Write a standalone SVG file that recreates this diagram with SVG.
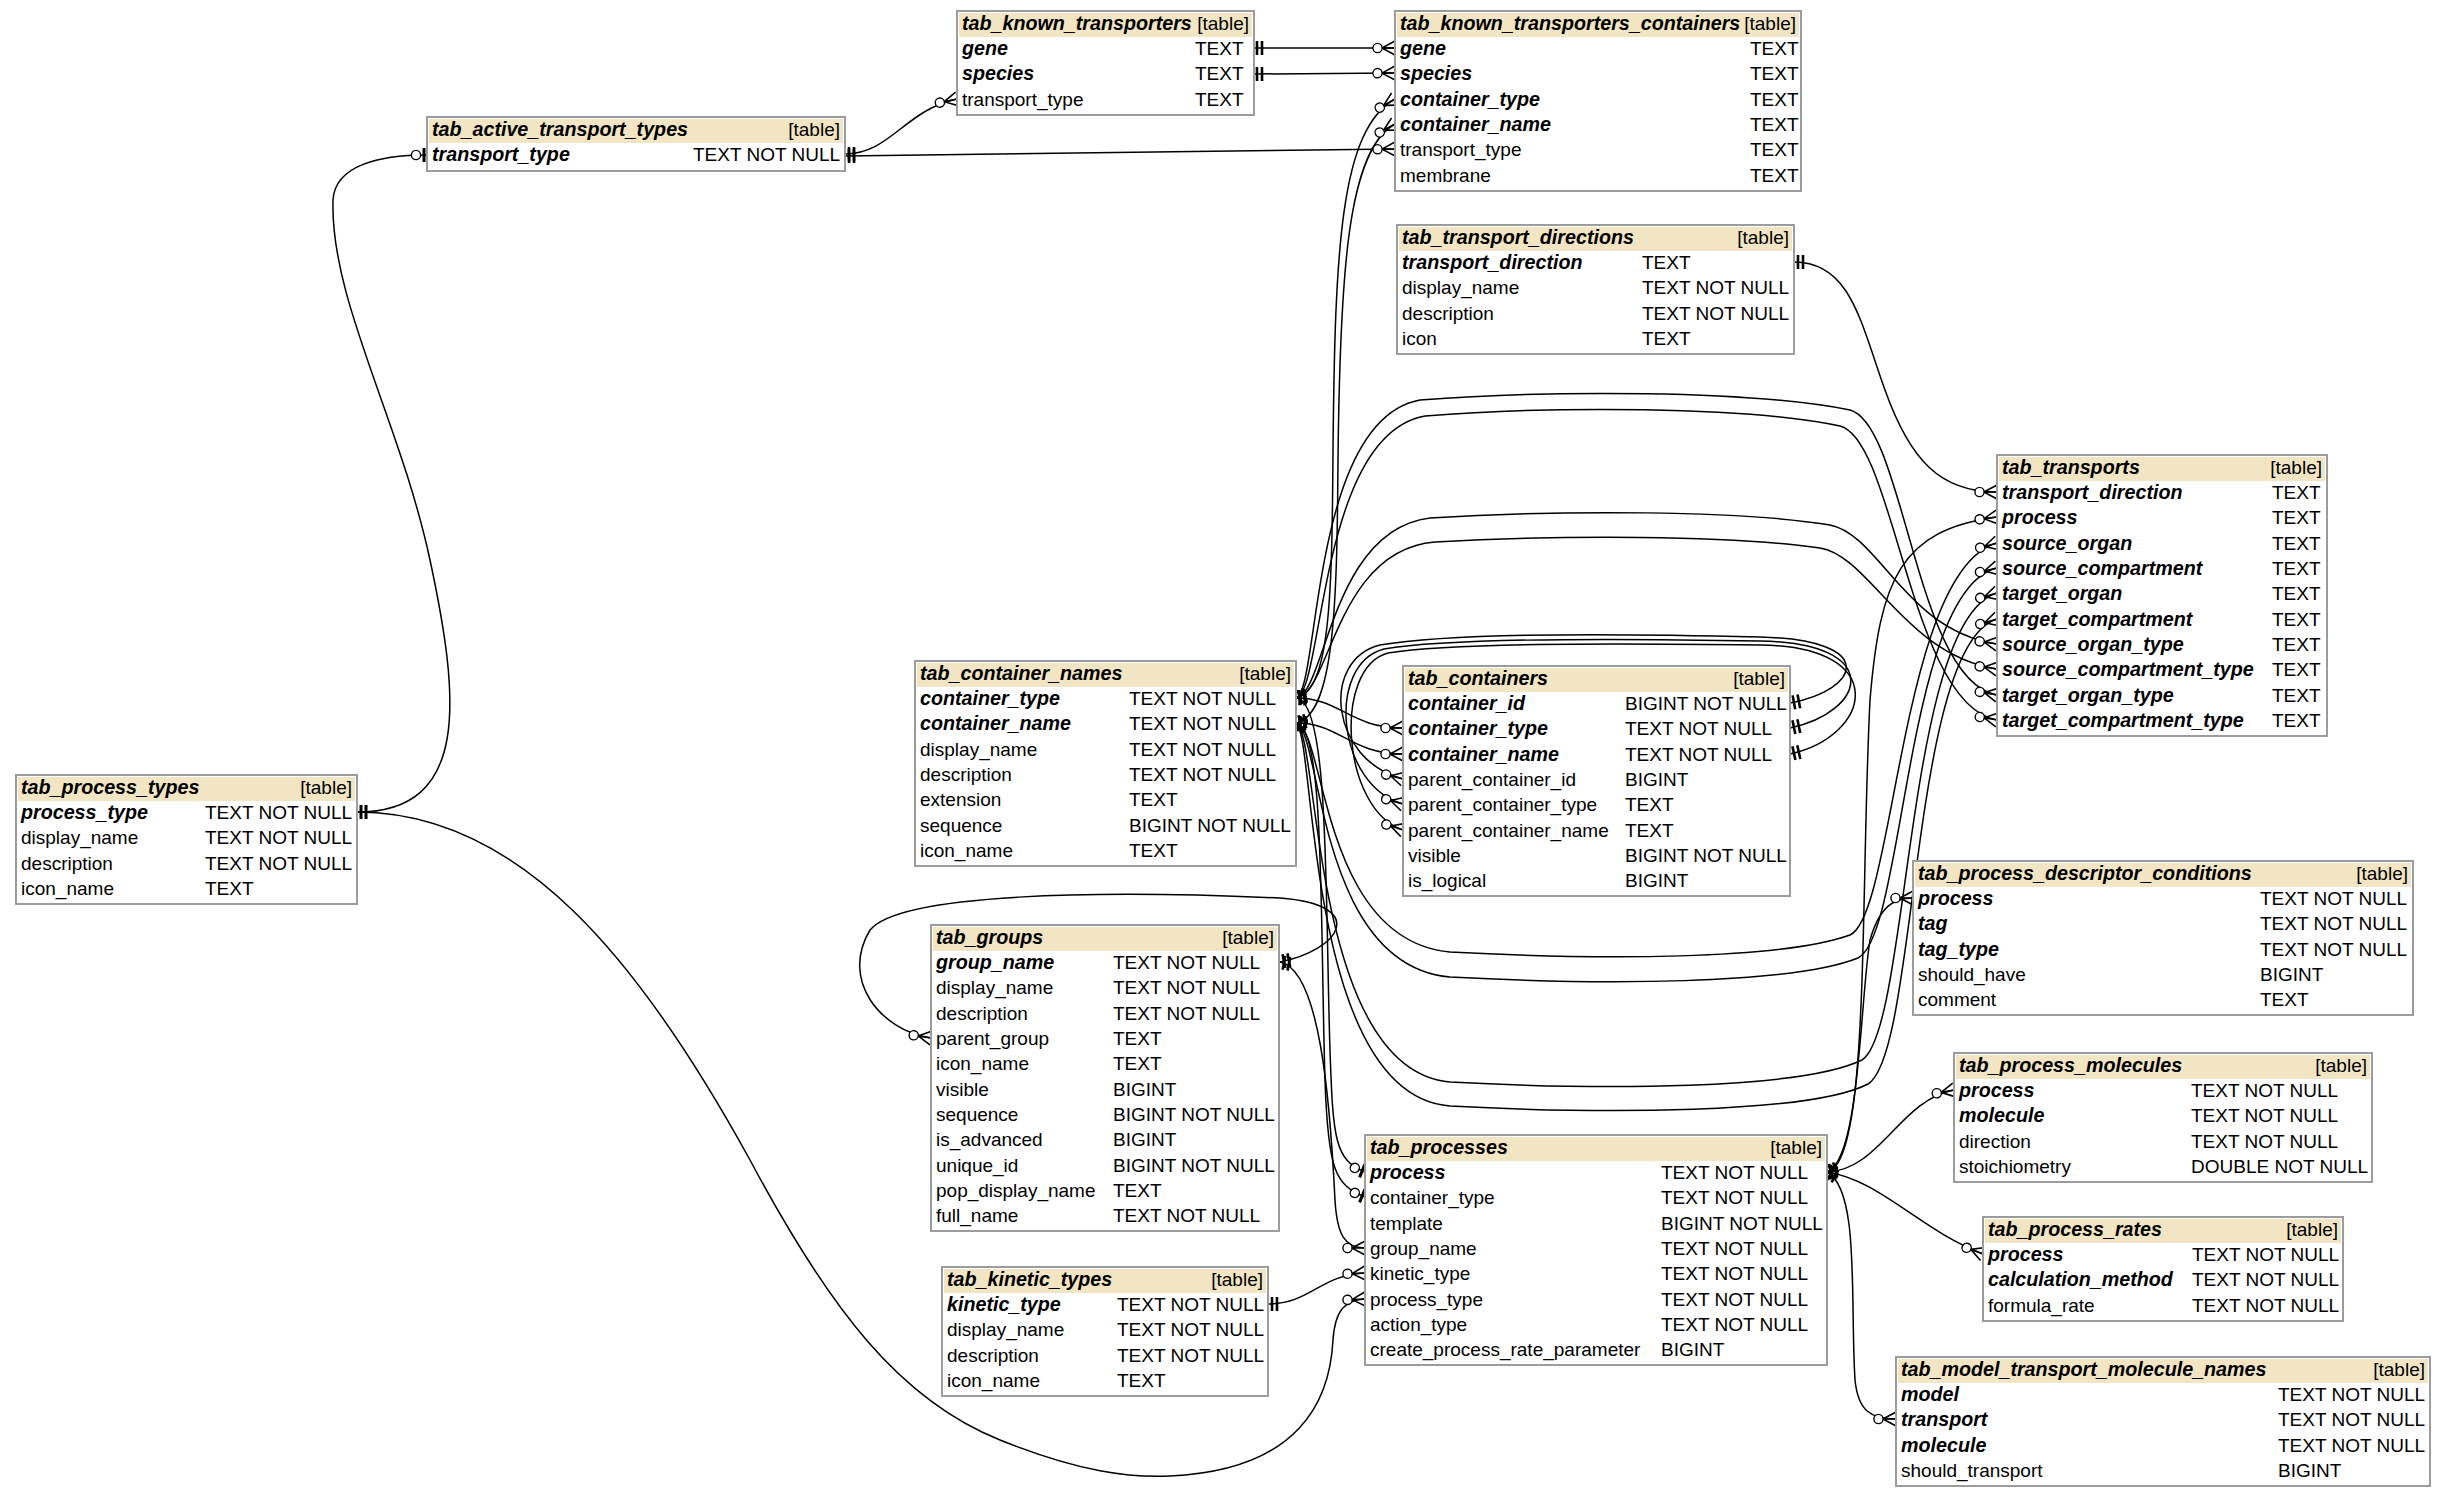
<svg xmlns="http://www.w3.org/2000/svg" width="2444" height="1496" viewBox="0 0 2444 1496">
<style>
.box{fill:#fff;stroke:#9c9c9c;stroke-width:2}
.hd{fill:#f2e5c3}
text{font-family:"Liberation Sans",Arial,sans-serif;font-size:19px;fill:#000}
.k{font-weight:bold;font-style:italic;font-size:19.7px}
.r{text-anchor:end}
.ln{fill:none;stroke:#000;stroke-width:1.5}
.p{marker-start:url(#one)}
.c{marker-end:url(#many)}
.z{marker-end:url(#zeroOne)}
</style>
<defs>
<marker id="many" markerUnits="userSpaceOnUse" orient="auto" overflow="visible" markerWidth="1" markerHeight="1" refX="0" refY="0">
<path d="M-13,0L0,-7M-13,0L0,0M-13,0L0,7" fill="none" stroke="#000" stroke-width="1.6"/>
<circle cx="-17.5" cy="0" r="4.6" fill="#fff" stroke="#000" stroke-width="1.4"/>
</marker>
<marker id="one" markerUnits="userSpaceOnUse" orient="auto-start-reverse" overflow="visible" markerWidth="1" markerHeight="1" refX="0" refY="0">
<path d="M-4,-7V7M-9,-7V7" fill="none" stroke="#000" stroke-width="2.6"/>
</marker>
<marker id="zeroOne" markerUnits="userSpaceOnUse" orient="auto" overflow="visible" markerWidth="1" markerHeight="1" refX="0" refY="0">
<path d="M-3,-7V7" fill="none" stroke="#000" stroke-width="3"/>
<circle cx="-11" cy="0" r="4.6" fill="#fff" stroke="#000" stroke-width="1.4"/>
</marker>
</defs>
<rect width="2444" height="1496" fill="#fff"/>

<g id="connectors">
<!-- known transporters -> known transporter containers -->
<path class="ln p c" d="M1253,48 L1395,48"/>
<path class="ln p c" d="M1253,74 L1395,73"/>
<!-- active transport types -> known transporters / containers -->
<path class="ln p c" d="M845,154 C890,154 905,110 957,99"/>
<path class="ln p c" d="M845,156 L1395,149"/>
<!-- process types -> active transport types (one to one) -->
<path class="ln p z" d="M357,812 C470,812 460,700 430,560 C400,420 330,300 333,200 C335,165 380,155 427,155"/>
<!-- process types -> processes.process_type -->
<path class="ln p c" d="M357,812 C520,812 640,960 750,1160 C830,1310 900,1400 1000,1440 C1080,1472 1130,1478 1170,1476 C1300,1470 1330,1400 1333,1340 C1335,1310 1345,1300 1365,1299"/>
<!-- transport directions -> transports -->
<path class="ln p c" d="M1794,262 C1850,262 1860,320 1885,390 C1910,460 1940,492 1997,492"/>
<!-- container names -> known transporter containers -->
<path class="ln p c" d="M1296,698 C1330,690 1332,600 1333,450 C1335,250 1340,130 1395,99"/>
<path class="ln p c" d="M1296,723 C1335,715 1337,600 1338,460 C1340,270 1348,150 1395,124"/>
<!-- container names -> containers -->
<path class="ln p c" d="M1296,698 C1340,698 1350,728 1403,728"/>
<path class="ln p c" d="M1296,723 C1340,723 1350,754 1403,754"/>
<!-- containers self reference (parent container) -->
<path class="ln p c" d="M1790,703 C1860,690 1880,640 1760,637 C1600,633 1450,633 1380,645 C1320,660 1330,760 1403,779"/>
<path class="ln p c" d="M1790,728 C1866,712 1886,643 1760,641 C1600,638 1450,638 1384,649 C1326,664 1336,785 1403,804"/>
<path class="ln p c" d="M1790,754 C1872,736 1892,646 1760,645 C1600,643 1450,643 1388,653 C1332,668 1342,810 1403,830"/>
<!-- container names -> transports (upper arcs) -->
<path class="ln p c" d="M1296,698 C1320,690 1310,420 1420,400 C1550,390 1750,390 1850,410 C1905,425 1915,680 1997,695"/>
<path class="ln p c" d="M1296,698 C1324,692 1318,435 1425,416 C1550,406 1745,406 1840,426 C1895,440 1910,705 1997,720"/>
<path class="ln p c" d="M1296,698 C1326,694 1330,530 1430,518 C1560,510 1740,510 1830,525 C1880,535 1905,630 1997,644"/>
<path class="ln p c" d="M1296,698 C1330,696 1335,550 1435,542 C1560,535 1730,535 1820,548 C1870,556 1905,655 1997,669"/>
<!-- container names -> transports (lower arcs) -->
<path class="ln p c" d="M1296,723 C1326,728 1320,940 1450,952 C1600,960 1780,960 1850,935 C1895,915 1900,570 1997,543"/>
<path class="ln p c" d="M1296,723 C1322,730 1316,965 1450,977 C1600,985 1790,985 1858,958 C1905,935 1905,590 1997,568"/>
<path class="ln p c" d="M1296,723 C1320,732 1310,1070 1450,1082 C1600,1090 1800,1090 1862,1060 C1910,1030 1905,620 1997,593"/>
<path class="ln p c" d="M1296,723 C1316,734 1305,1095 1450,1106 C1600,1114 1810,1114 1868,1084 C1918,1055 1910,645 1997,619"/>
<!-- container names -> processes -->
<path class="ln p z" d="M1296,698 C1330,700 1325,900 1330,1050 C1333,1140 1335,1160 1365,1172"/>
<path class="ln p z" d="M1296,723 C1325,725 1320,920 1325,1080 C1328,1170 1335,1185 1365,1197"/>
<!-- groups -> processes / groups self reference -->
<path class="ln p c" d="M1280,962 C1320,970 1330,1100 1335,1200 C1337,1235 1345,1248 1365,1248"/>
<path class="ln p c" d="M1280,962 C1340,950 1370,905 1280,898 C1100,890 900,893 870,930 C840,980 880,1030 931,1038"/>
<!-- kinetic types -> processes -->
<path class="ln p c" d="M1268,1304 C1310,1304 1320,1275 1365,1273"/>
<!-- processes -> children -->
<path class="ln p c" d="M1827,1172 C1870,1165 1860,900 1870,700 C1880,580 1900,530 1997,517"/>
<path class="ln p c" d="M1827,1172 C1860,1160 1860,1000 1870,940 C1880,905 1895,898 1913,898"/>
<path class="ln p c" d="M1827,1172 C1880,1170 1900,1100 1954,1090"/>
<path class="ln p c" d="M1827,1172 C1880,1180 1920,1230 1983,1254"/>
<path class="ln p c" d="M1827,1172 C1860,1190 1850,1300 1855,1380 C1858,1410 1870,1419 1896,1419"/>
</g>

<g id="tab_known_transporters" transform="translate(957,11)">
<rect class="box" width="297" height="104"/><rect class="hd" x="2" y="2" width="293" height="24"/>
<text class="k" x="5" y="19">tab_known_transporters</text><text class="r" x="292" y="19">[table]</text>
<text class="k" x="5" y="44">gene</text><text x="238" y="44">TEXT</text>
<text class="k" x="5" y="69.3">species</text><text x="238" y="69.3">TEXT</text>
<text x="5" y="94.7">transport_type</text><text x="238" y="94.7">TEXT</text>
</g>

<g id="tab_known_transporters_containers" transform="translate(1395,11)">
<rect class="box" width="406" height="180"/><rect class="hd" x="2" y="2" width="402" height="24"/>
<text class="k" x="5" y="19">tab_known_transporters_containers</text><text class="r" x="401" y="19">[table]</text>
<text class="k" x="5" y="44">gene</text><text x="355" y="44">TEXT</text>
<text class="k" x="5" y="69.3">species</text><text x="355" y="69.3">TEXT</text>
<text class="k" x="5" y="94.7">container_type</text><text x="355" y="94.7">TEXT</text>
<text class="k" x="5" y="120">container_name</text><text x="355" y="120">TEXT</text>
<text x="5" y="145.3">transport_type</text><text x="355" y="145.3">TEXT</text>
<text x="5" y="170.7">membrane</text><text x="355" y="170.7">TEXT</text>
</g>

<g id="tab_active_transport_types" transform="translate(427,117)">
<rect class="box" width="418" height="54"/><rect class="hd" x="2" y="2" width="414" height="24"/>
<text class="k" x="5" y="19">tab_active_transport_types</text><text class="r" x="413" y="19">[table]</text>
<text class="k" x="5" y="44">transport_type</text><text x="266" y="44">TEXT NOT NULL</text>
</g>

<g id="tab_transport_directions" transform="translate(1397,225)">
<rect class="box" width="397" height="129"/><rect class="hd" x="2" y="2" width="393" height="24"/>
<text class="k" x="5" y="19">tab_transport_directions</text><text class="r" x="392" y="19">[table]</text>
<text class="k" x="5" y="44">transport_direction</text><text x="245" y="44">TEXT</text>
<text x="5" y="69.3">display_name</text><text x="245" y="69.3">TEXT NOT NULL</text>
<text x="5" y="94.7">description</text><text x="245" y="94.7">TEXT NOT NULL</text>
<text x="5" y="120">icon</text><text x="245" y="120">TEXT</text>
</g>

<g id="tab_transports" transform="translate(1997,455)">
<rect class="box" width="330" height="281"/><rect class="hd" x="2" y="2" width="326" height="24"/>
<text class="k" x="5" y="19">tab_transports</text><text class="r" x="325" y="19">[table]</text>
<text class="k" x="5" y="44">transport_direction</text><text x="275" y="44">TEXT</text>
<text class="k" x="5" y="69.3">process</text><text x="275" y="69.3">TEXT</text>
<text class="k" x="5" y="94.7">source_organ</text><text x="275" y="94.7">TEXT</text>
<text class="k" x="5" y="120">source_compartment</text><text x="275" y="120">TEXT</text>
<text class="k" x="5" y="145.3">target_organ</text><text x="275" y="145.3">TEXT</text>
<text class="k" x="5" y="170.7">target_compartment</text><text x="275" y="170.7">TEXT</text>
<text class="k" x="5" y="196">source_organ_type</text><text x="275" y="196">TEXT</text>
<text class="k" x="5" y="221.3">source_compartment_type</text><text x="275" y="221.3">TEXT</text>
<text class="k" x="5" y="246.7">target_organ_type</text><text x="275" y="246.7">TEXT</text>
<text class="k" x="5" y="272">target_compartment_type</text><text x="275" y="272">TEXT</text>
</g>

<g id="tab_container_names" transform="translate(915,661)">
<rect class="box" width="381" height="205"/><rect class="hd" x="2" y="2" width="377" height="24"/>
<text class="k" x="5" y="19">tab_container_names</text><text class="r" x="376" y="19">[table]</text>
<text class="k" x="5" y="44">container_type</text><text x="214" y="44">TEXT NOT NULL</text>
<text class="k" x="5" y="69.3">container_name</text><text x="214" y="69.3">TEXT NOT NULL</text>
<text x="5" y="94.7">display_name</text><text x="214" y="94.7">TEXT NOT NULL</text>
<text x="5" y="120">description</text><text x="214" y="120">TEXT NOT NULL</text>
<text x="5" y="145.3">extension</text><text x="214" y="145.3">TEXT</text>
<text x="5" y="170.7">sequence</text><text x="214" y="170.7">BIGINT NOT NULL</text>
<text x="5" y="196">icon_name</text><text x="214" y="196">TEXT</text>
</g>

<g id="tab_containers" transform="translate(1403,666)">
<rect class="box" width="387" height="230"/><rect class="hd" x="2" y="2" width="383" height="24"/>
<text class="k" x="5" y="19">tab_containers</text><text class="r" x="382" y="19">[table]</text>
<text class="k" x="5" y="44">container_id</text><text x="222" y="44">BIGINT NOT NULL</text>
<text class="k" x="5" y="69.3">container_type</text><text x="222" y="69.3">TEXT NOT NULL</text>
<text class="k" x="5" y="94.7">container_name</text><text x="222" y="94.7">TEXT NOT NULL</text>
<text x="5" y="120">parent_container_id</text><text x="222" y="120">BIGINT</text>
<text x="5" y="145.3">parent_container_type</text><text x="222" y="145.3">TEXT</text>
<text x="5" y="170.7">parent_container_name</text><text x="222" y="170.7">TEXT</text>
<text x="5" y="196">visible</text><text x="222" y="196">BIGINT NOT NULL</text>
<text x="5" y="221.3">is_logical</text><text x="222" y="221.3">BIGINT</text>
</g>

<g id="tab_process_types" transform="translate(16,775)">
<rect class="box" width="341" height="129"/><rect class="hd" x="2" y="2" width="337" height="24"/>
<text class="k" x="5" y="19">tab_process_types</text><text class="r" x="336" y="19">[table]</text>
<text class="k" x="5" y="44">process_type</text><text x="189" y="44">TEXT NOT NULL</text>
<text x="5" y="69.3">display_name</text><text x="189" y="69.3">TEXT NOT NULL</text>
<text x="5" y="94.7">description</text><text x="189" y="94.7">TEXT NOT NULL</text>
<text x="5" y="120">icon_name</text><text x="189" y="120">TEXT</text>
</g>

<g id="tab_groups" transform="translate(931,925)">
<rect class="box" width="348" height="306"/><rect class="hd" x="2" y="2" width="344" height="24"/>
<text class="k" x="5" y="19">tab_groups</text><text class="r" x="343" y="19">[table]</text>
<text class="k" x="5" y="44">group_name</text><text x="182" y="44">TEXT NOT NULL</text>
<text x="5" y="69.3">display_name</text><text x="182" y="69.3">TEXT NOT NULL</text>
<text x="5" y="94.7">description</text><text x="182" y="94.7">TEXT NOT NULL</text>
<text x="5" y="120">parent_group</text><text x="182" y="120">TEXT</text>
<text x="5" y="145.3">icon_name</text><text x="182" y="145.3">TEXT</text>
<text x="5" y="170.7">visible</text><text x="182" y="170.7">BIGINT</text>
<text x="5" y="196">sequence</text><text x="182" y="196">BIGINT NOT NULL</text>
<text x="5" y="221.3">is_advanced</text><text x="182" y="221.3">BIGINT</text>
<text x="5" y="246.7">unique_id</text><text x="182" y="246.7">BIGINT NOT NULL</text>
<text x="5" y="272">pop_display_name</text><text x="182" y="272">TEXT</text>
<text x="5" y="297.3">full_name</text><text x="182" y="297.3">TEXT NOT NULL</text>
</g>

<g id="tab_kinetic_types" transform="translate(942,1267)">
<rect class="box" width="326" height="129"/><rect class="hd" x="2" y="2" width="322" height="24"/>
<text class="k" x="5" y="19">tab_kinetic_types</text><text class="r" x="321" y="19">[table]</text>
<text class="k" x="5" y="44">kinetic_type</text><text x="175" y="44">TEXT NOT NULL</text>
<text x="5" y="69.3">display_name</text><text x="175" y="69.3">TEXT NOT NULL</text>
<text x="5" y="94.7">description</text><text x="175" y="94.7">TEXT NOT NULL</text>
<text x="5" y="120">icon_name</text><text x="175" y="120">TEXT</text>
</g>

<g id="tab_processes" transform="translate(1365,1135)">
<rect class="box" width="462" height="230"/><rect class="hd" x="2" y="2" width="458" height="24"/>
<text class="k" x="5" y="19">tab_processes</text><text class="r" x="457" y="19">[table]</text>
<text class="k" x="5" y="44">process</text><text x="296" y="44">TEXT NOT NULL</text>
<text x="5" y="69.3">container_type</text><text x="296" y="69.3">TEXT NOT NULL</text>
<text x="5" y="94.7">template</text><text x="296" y="94.7">BIGINT NOT NULL</text>
<text x="5" y="120">group_name</text><text x="296" y="120">TEXT NOT NULL</text>
<text x="5" y="145.3">kinetic_type</text><text x="296" y="145.3">TEXT NOT NULL</text>
<text x="5" y="170.7">process_type</text><text x="296" y="170.7">TEXT NOT NULL</text>
<text x="5" y="196">action_type</text><text x="296" y="196">TEXT NOT NULL</text>
<text x="5" y="221.3">create_process_rate_parameter</text><text x="296" y="221.3">BIGINT</text>
</g>

<g id="tab_process_descriptor_conditions" transform="translate(1913,861)">
<rect class="box" width="500" height="154"/><rect class="hd" x="2" y="2" width="496" height="24"/>
<text class="k" x="5" y="19">tab_process_descriptor_conditions</text><text class="r" x="495" y="19">[table]</text>
<text class="k" x="5" y="44">process</text><text x="347" y="44">TEXT NOT NULL</text>
<text class="k" x="5" y="69.3">tag</text><text x="347" y="69.3">TEXT NOT NULL</text>
<text class="k" x="5" y="94.7">tag_type</text><text x="347" y="94.7">TEXT NOT NULL</text>
<text x="5" y="120">should_have</text><text x="347" y="120">BIGINT</text>
<text x="5" y="145.3">comment</text><text x="347" y="145.3">TEXT</text>
</g>

<g id="tab_process_molecules" transform="translate(1954,1053)">
<rect class="box" width="418" height="129"/><rect class="hd" x="2" y="2" width="414" height="24"/>
<text class="k" x="5" y="19">tab_process_molecules</text><text class="r" x="413" y="19">[table]</text>
<text class="k" x="5" y="44">process</text><text x="237" y="44">TEXT NOT NULL</text>
<text class="k" x="5" y="69.3">molecule</text><text x="237" y="69.3">TEXT NOT NULL</text>
<text x="5" y="94.7">direction</text><text x="237" y="94.7">TEXT NOT NULL</text>
<text x="5" y="120">stoichiometry</text><text x="237" y="120">DOUBLE NOT NULL</text>
</g>

<g id="tab_process_rates" transform="translate(1983,1217)">
<rect class="box" width="360" height="104"/><rect class="hd" x="2" y="2" width="356" height="24"/>
<text class="k" x="5" y="19">tab_process_rates</text><text class="r" x="355" y="19">[table]</text>
<text class="k" x="5" y="44">process</text><text x="209" y="44">TEXT NOT NULL</text>
<text class="k" x="5" y="69.3">calculation_method</text><text x="209" y="69.3">TEXT NOT NULL</text>
<text x="5" y="94.7">formula_rate</text><text x="209" y="94.7">TEXT NOT NULL</text>
</g>

<g id="tab_model_transport_molecule_names" transform="translate(1896,1357)">
<rect class="box" width="534" height="129"/><rect class="hd" x="2" y="2" width="530" height="24"/>
<text class="k" x="5" y="19">tab_model_transport_molecule_names</text><text class="r" x="529" y="19">[table]</text>
<text class="k" x="5" y="44">model</text><text x="382" y="44">TEXT NOT NULL</text>
<text class="k" x="5" y="69.3">transport</text><text x="382" y="69.3">TEXT NOT NULL</text>
<text class="k" x="5" y="94.7">molecule</text><text x="382" y="94.7">TEXT NOT NULL</text>
<text x="5" y="120">should_transport</text><text x="382" y="120">BIGINT</text>
</g>
</svg>
